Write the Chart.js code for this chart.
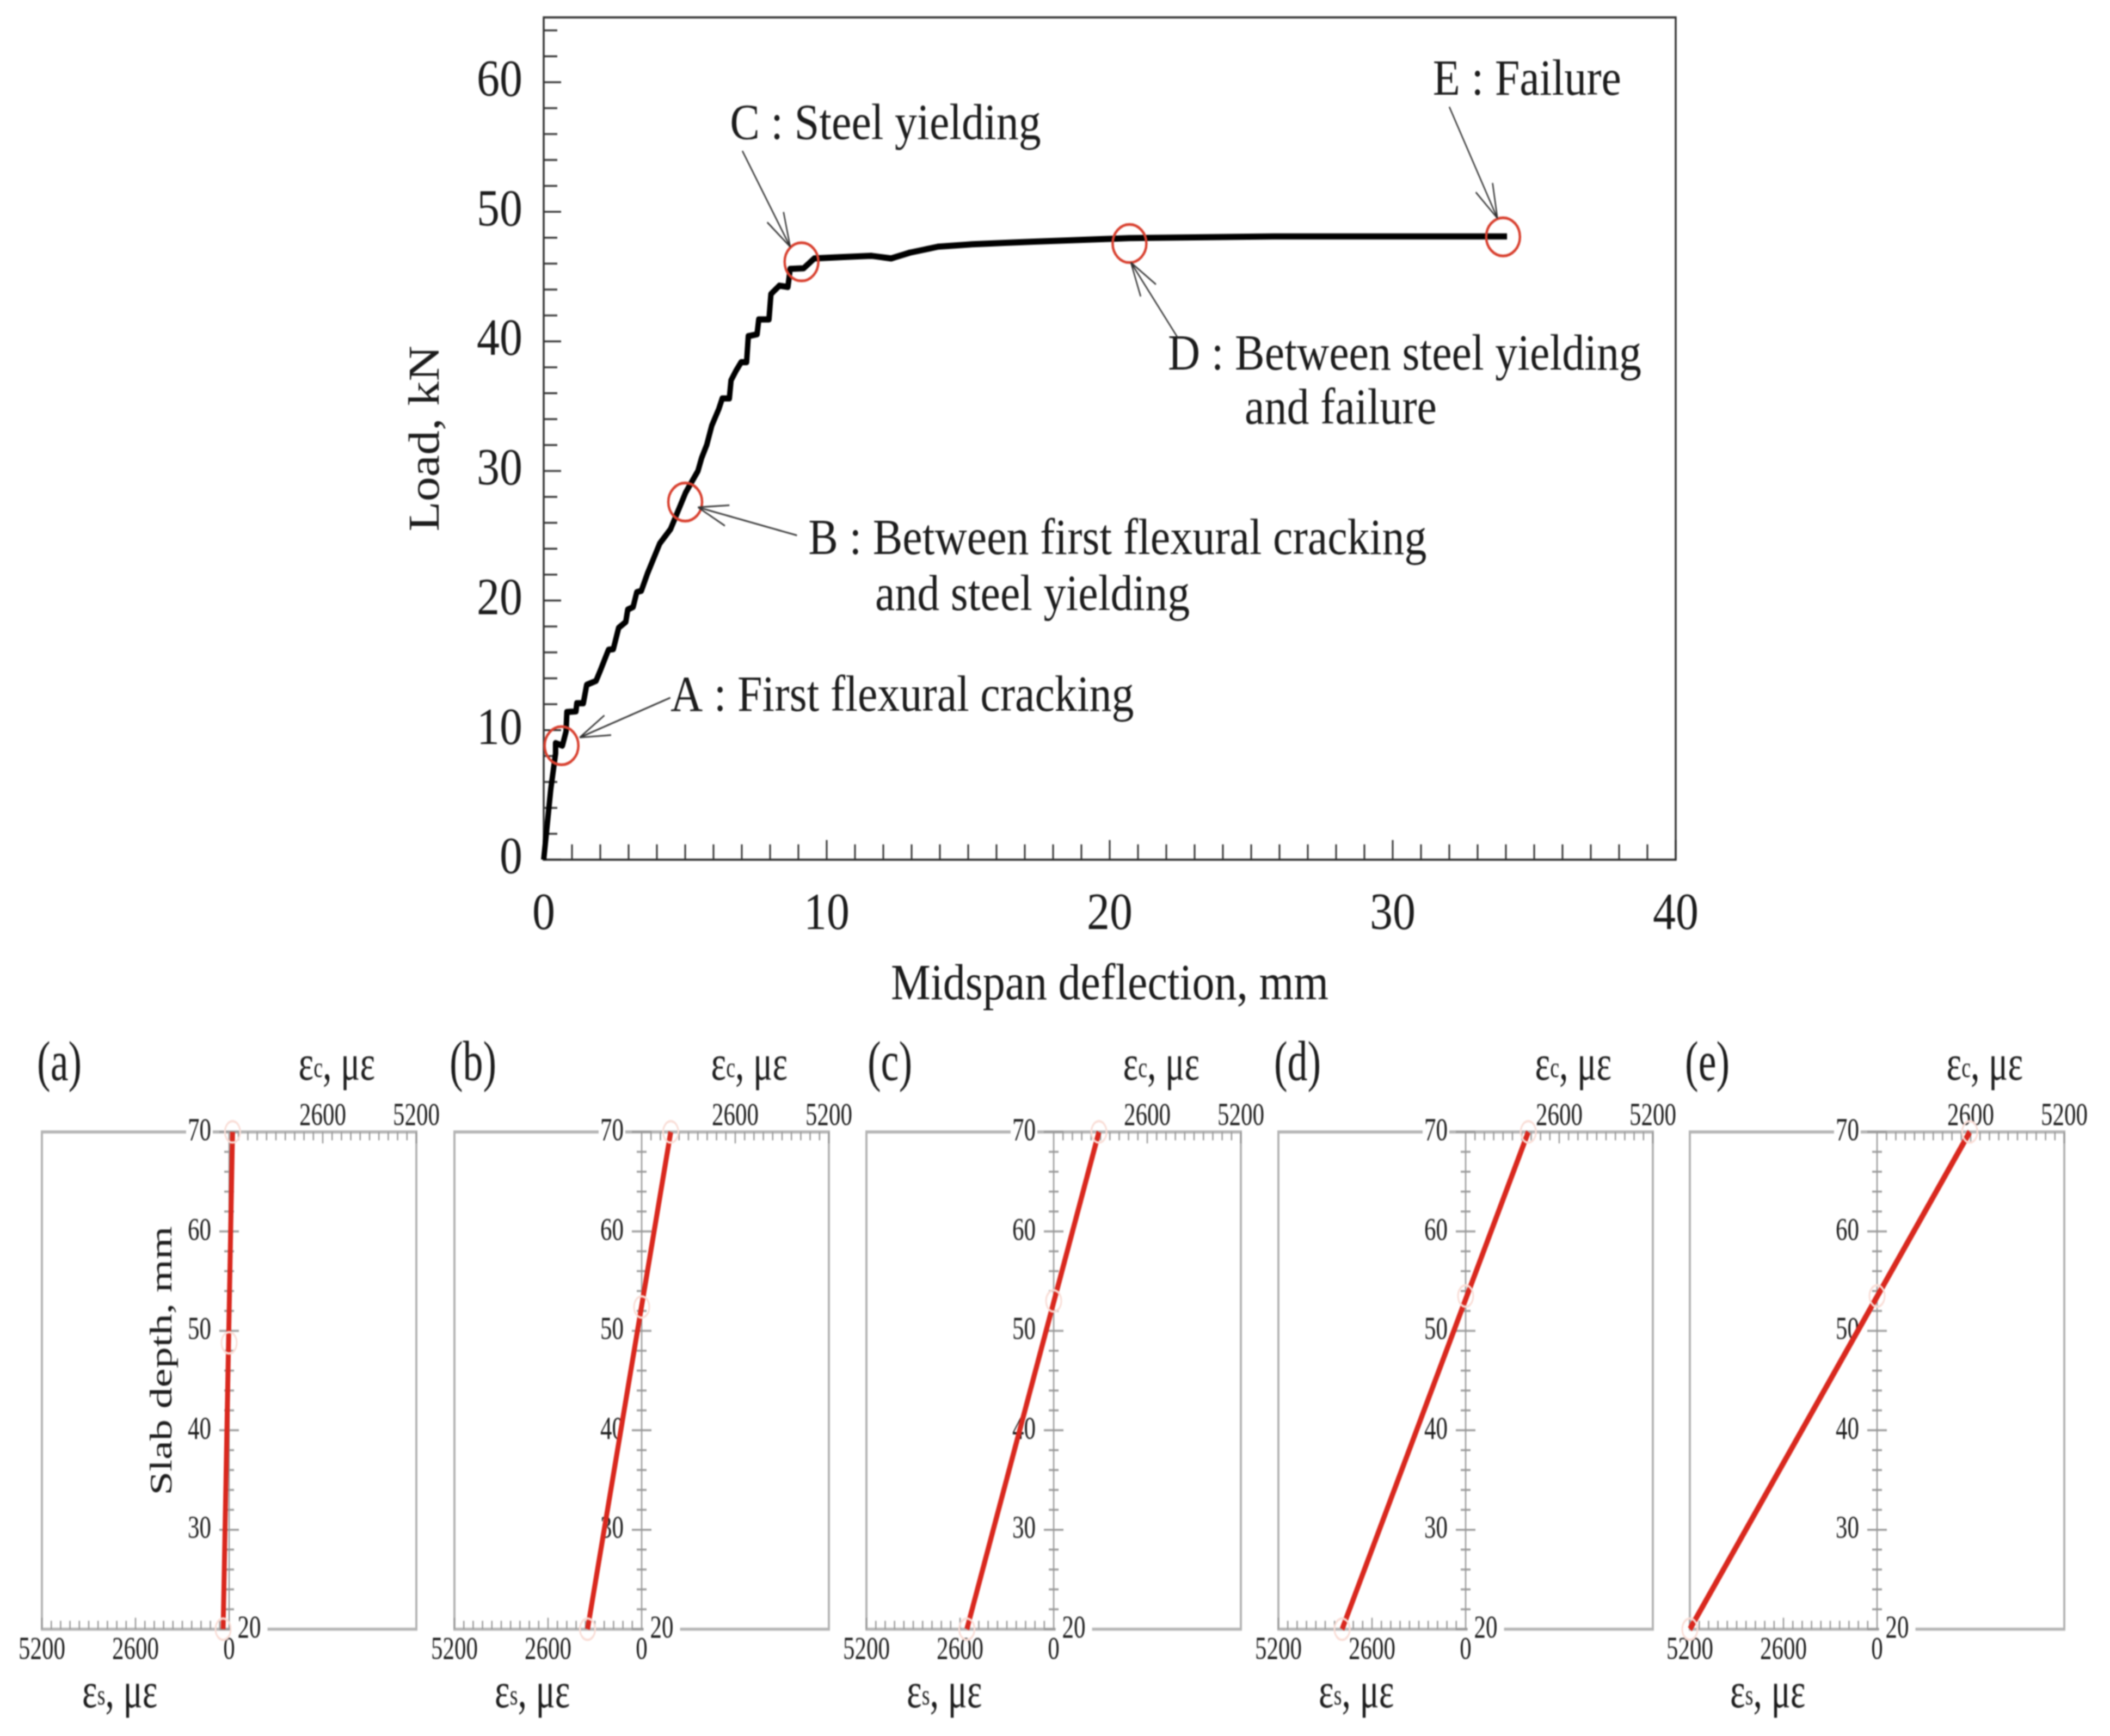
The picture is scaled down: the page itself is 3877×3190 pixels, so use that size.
<!DOCTYPE html>
<html>
<head>
<meta charset="utf-8">
<script src="https://cdn.jsdelivr.net/npm/chart.js@4"></script>
<style>
  html, body { margin: 0; background: #fff; }
  #page { position: relative; width: 3877px; height: 3190px; overflow: hidden; background: #fff; }
  canvas { position: absolute; filter: blur(1px); }
</style>
</head>
<body>
<div id="page"></div>
<script>
// Load vs midspan deflection
const deflection = [0, 0.25, 0.42, 0.42, 0.66, 0.79, 0.82, 1.14, 1.17, 1.40, 1.52, 1.85, 2.0, 2.29, 2.46, 2.65, 2.9, 2.97, 3.16, 3.29, 3.45, 3.67, 4.1, 4.48, 5.02, 5.45, 5.58, 5.76, 5.94, 6.19, 6.31, 6.56, 6.62, 6.8, 6.98, 7.17, 7.23, 7.54, 7.6, 7.96, 8.03, 8.33, 8.63, 8.71, 9.19, 9.56, 10.48, 11.59, 12.27, 12.94, 13.92, 15.14, 17.33, 20.68, 25.8, 34.04];
const load = [0, 5.45, 8.2, 9.0, 8.8, 9.9, 11.4, 11.45, 12.07, 12.07, 13.5, 13.8, 14.6, 16.2, 16.25, 17.9, 18.35, 19.3, 19.5, 20.65, 20.75, 22.1, 24.4, 25.5, 28.35, 30.0, 31.0, 32.0, 33.5, 34.8, 35.6, 35.6, 37.0, 37.75, 38.4, 38.4, 40.4, 40.55, 41.7, 41.7, 43.65, 44.3, 44.2, 45.6, 45.65, 46.4, 46.5, 46.6, 46.4, 46.85, 47.3, 47.5, 47.7, 47.97, 48.1, 48.1];

// Stage markers A-E
const stageX = [0.63, 5.0, 9.11, 20.7, 33.9];
const stageY = [8.8, 27.6, 46.14, 47.55, 48.07];

// Arrows from each caption to its marker
const arrowTailX = [4.475, 8.95, 7.02, 22.4, 32.0];
const arrowTailY = [12.5, 25.03, 54.7, 40.3, 58.1];
const arrowTipX = [1.27, 5.45, 8.71, 20.75, 33.7];
const arrowTipY = [9.43, 27.2, 47.3, 46.08, 49.5];

// Captions on the load curve
const captionText = ['A : First flexural cracking', 'B : Between first flexural cracking', 'and steel yielding', 'C : Steel yielding', 'D : Between steel yielding', 'and failure', 'E : Failure'];
const captionX = [4.48, 9.35, 11.71, 6.58, 22.06, 24.77, 31.42];
const captionY = [11.5, 23.6, 19.27, 55.6, 37.85, 33.65, 59.05];

// Strain profiles (a)-(e)
const panelLetters = ['(a)', '(b)', '(c)', '(d)', '(e)'];
const concreteStrain = [95, 808, 1257, 1741, 2575];
const steelStrain = [-166, -1503, -2412, -3431, -5200];
const neutralDepth = [48.8, 52.4, 53.0, 53.5, 53.5];
const topDepth = 70;
const bottomDepth = 20;
const letterX = [-4715, -4685, -4550, -4670, -4715];

// layout, page px
const SERIF = '"Liberation Serif", serif';
const MAIN_K = 1.13, PANEL_K = 1.4;   // the source picture is stretched vertically
const panelLeft = [77, 835, 1592, 2349, 3105];
const PANEL_W = 688, PANEL_SIDE = 60, PANEL_TOP = 2080, PANEL_BOTTOM = 2994, PANEL_PAGE_Y = 1880;

function addCanvas(left, top, w, h, cssH) {
    const el = document.createElement('canvas');
    el.width = w; el.height = h;
    el.style.left = left + 'px'; el.style.top = top + 'px';
    el.style.width = w + 'px'; el.style.height = cssH + 'px';
    document.getElementById('page').appendChild(el);
    return el;
}

const axisMarks = {
    id: 'axisMarks',
    beforeDraw(chart, args, o) {
        const a = chart.chartArea, c = chart.ctx;
        c.save();
        c.strokeStyle = o.frameColor; c.lineWidth = o.frameWidth;
        c.strokeRect(a.left, a.top, a.right - a.left, a.bottom - a.top);
        c.restore();
    },
    beforeDatasetsDraw(chart, args, o) {
        const c = chart.ctx;
        c.save();
        c.strokeStyle = o.tickColor; c.lineWidth = o.tickWidth;
        o.marks.forEach(m => {
            const s = chart.scales[m.id], edge = m.edge(chart);
            if (m.spine) {
                c.beginPath();
                c.moveTo(edge, chart.chartArea.top); c.lineTo(edge, chart.chartArea.bottom);
                c.stroke();
            }
            s.ticks.forEach(t => {
                if (m.keep && !m.keep(t.value)) return;
                const r = t.value % m.every === 0 ? m.major : m.minor, p = s.getPixelForValue(t.value);
                c.beginPath();
                if (s.isHorizontal()) { c.moveTo(p, edge + r[0]); c.lineTo(p, edge + r[1]); }
                else { c.moveTo(edge + r[0], p); c.lineTo(edge + r[1], p); }
                c.stroke();
            });
        });
        c.restore();
    }
};

// free text placed in data coordinates
const notes = {
    id: 'notes',
    beforeDatasetsDraw(chart, args, o) {
        const c = chart.ctx;
        o.items.forEach(n => {
            const x = chart.scales.x.getPixelForValue(n.x), y = chart.scales.y.getPixelForValue(n.y);
            c.save();
            c.translate(x, y);
            if (n.rotate) c.rotate(n.rotate);
            c.fillStyle = '#1c1c1c';
            c.textBaseline = n.baseline || 'alphabetic';
            const parts = n.parts || [[n.text, n.size, 0]];
            const sizes = parts.map(p => { c.font = p[1] + 'px ' + SERIF; return c.measureText(p[0]).width; });
            const total = sizes.reduce((a, b) => a + b, 0);
            let px = n.align === 'center' ? -total / 2 : 0;
            // white patch breaks the frame line behind the "20" label
            if (n.bg) { c.fillStyle = '#fff'; c.fillRect(px - 12, -n.size * 0.55, total + 24, n.size * 0.7); c.fillStyle = '#1c1c1c'; }
            parts.forEach((p, i) => {
                c.font = p[1] + 'px ' + SERIF;
                c.fillText(p[0], px, p[2]);
                px += sizes[i];
            });
            c.restore();
        });
    }
};

// caption arrows with open two-barb heads
const arrows = {
    id: 'arrows',
    afterDatasetsDraw(chart) {
        const c = chart.ctx, sx = chart.scales.x, sy = chart.scales.y;
        c.save();
        c.strokeStyle = '#333'; c.lineWidth = 2.5;
        arrowTipX.forEach((_, i) => {
            const x0 = sx.getPixelForValue(arrowTailX[i]), y0 = sy.getPixelForValue(arrowTailY[i]);
            const x1 = sx.getPixelForValue(arrowTipX[i]), y1 = sy.getPixelForValue(arrowTipY[i]);
            const ang = Math.atan2(y0 - y1, x0 - x1);
            c.beginPath();
            c.moveTo(x0, y0); c.lineTo(x1, y1);
            [-0.3, 0.3].forEach(d => {
                c.moveTo(x1, y1);
                c.lineTo(x1 + 58 * Math.cos(ang + d), y1 + 58 * Math.sin(ang + d));
            });
            c.stroke();
        });
        c.restore();
    }
};

// main load-deflection chart
const MAIN_PAGE_H = 1880, MAIN_H = Math.round(MAIN_PAGE_H / MAIN_K);
const mainFont = { family: SERIF, size: 84 };
new Chart(addCanvas(0, 0, 3877, MAIN_H, MAIN_PAGE_H), {
    type: 'scatter',
    data: {
        datasets: [
            {
                data: stageX.map((x, i) => ({ x, y: stageY[i] })),
                pointStyle: 'circle', pointRadius: 31, pointBorderWidth: 4.5,
                pointBorderColor: '#d8402f', pointBackgroundColor: 'transparent', clip: false
            },
            {
                data: deflection.map((x, i) => ({ x, y: load[i] })),
                showLine: true, borderColor: '#000', borderWidth: 10, pointRadius: 0,
                borderJoinStyle: 'round', tension: 0, clip: false
            }
        ]
    },
    options: {
        responsive: false, animation: false, devicePixelRatio: 1, events: [],
        layout: { autoPadding: false, padding: { left: 0, right: 3877 - 3079, top: 32 / MAIN_K, bottom: 0 } },
        plugins: {
            legend: { display: false }, tooltip: { enabled: false },
            axisMarks: {
                frameColor: '#333', frameWidth: 3.5, tickColor: '#333', tickWidth: 3,
                marks: [
                    { id: 'x', edge: c => c.chartArea.bottom, every: 10, major: [-32, 0], minor: [-25, 0] },
                    { id: 'y', edge: c => c.chartArea.left, every: 10, major: [0, 32], minor: [0, 25] }
                ]
            },
            notes: { items: captionText.map((text, i) => ({ text, x: captionX[i], y: captionY[i], size: 82 })) }
        },
        scales: {
            x: {
                type: 'linear', min: 0, max: 40,
                grid: { display: false }, border: { display: false },
                afterFit: s => { s.height = MAIN_H - 1580 / MAIN_K; s.paddingLeft = 0; s.paddingRight = 0; },
                ticks: {
                    stepSize: 1, autoSkip: false, maxRotation: 0, includeBounds: false,
                    font: mainFont, color: '#1c1c1c', padding: 32,
                    callback: v => v % 10 === 0 ? v : ''
                },
                title: { display: true, text: 'Midspan deflection, mm', font: { family: SERIF, size: 82, lineHeight: 1 }, color: '#1c1c1c', padding: { bottom: 20 } }
            },
            y: {
                type: 'linear', min: 0, max: 65,
                grid: { display: false }, border: { display: false },
                afterFit: s => { s.width = 999; s.paddingTop = 0; s.paddingBottom = 0; },
                ticks: {
                    stepSize: 2, autoSkip: false, includeBounds: false,
                    font: mainFont, color: '#1c1c1c', padding: 31,
                    callback: v => v % 10 === 0 ? v : ''
                },
                title: { display: true, text: 'Load, kN', font: { family: SERIF, size: 80, lineHeight: 1 }, color: '#1c1c1c', padding: { top: 745 } }
            }
        }
    },
    plugins: [axisMarks, notes, arrows]
});

// strain profile panels
const PANEL_CANVAS_H = Math.round((3190 - PANEL_PAGE_Y) / PANEL_K);
const panelTopRoom = (PANEL_TOP - PANEL_PAGE_Y) / PANEL_K;
const panelBottomRoom = PANEL_CANVAS_H - (PANEL_BOTTOM - PANEL_PAGE_Y) / PANEL_K;
panelLetters.forEach((letter, i) => {
    const items = [
        { text: letter, x: letterX[i], y: 76.7, size: 74, align: 'center', baseline: 'middle' },
        { parts: [['ε', 66, 0], ['c', 38, 4], [', με', 66, 0]], x: 2990, y: 76.6, align: 'center', baseline: 'middle' },
        { parts: [['ε', 66, 0], ['s', 38, 4], [', με', 66, 0]], x: -3035, y: 13.5, align: 'center', baseline: 'middle' },
        { text: String(bottomDepth), x: 560, y: bottomDepth, size: 43, align: 'center', baseline: 'middle', bg: true }
    ];
    if (i === 0) items.push({ text: 'Slab depth, mm', x: -1832, y: 47, size: 56, align: 'center', baseline: 'middle', rotate: -Math.PI / 2 });

    new Chart(addCanvas(panelLeft[i] - PANEL_SIDE, PANEL_PAGE_Y, PANEL_W + 2 * PANEL_SIDE, PANEL_CANVAS_H, 3190 - PANEL_PAGE_Y), {
        type: 'scatter',
        data: {
            datasets: [
                {
                    data: [
                        { x: concreteStrain[i], y: topDepth },
                        { x: 0, y: neutralDepth[i] },
                        { x: steelStrain[i], y: bottomDepth }
                    ],
                    pointStyle: 'circle', pointRadius: 14, pointBorderWidth: 3,
                    pointBorderColor: '#f9ddd6', pointBackgroundColor: 'transparent', clip: false
                },
                {
                    data: [{ x: steelStrain[i], y: bottomDepth }, { x: concreteStrain[i], y: topDepth }],
                    showLine: true, borderColor: '#d9281e', borderWidth: 9, pointRadius: 0, clip: false
                }
            ]
        },
        options: {
            responsive: false, animation: false, devicePixelRatio: 1, events: [],
            layout: { autoPadding: false, padding: { left: PANEL_SIDE, right: PANEL_SIDE, top: 0, bottom: 0 } },
            plugins: {
                legend: { display: false }, tooltip: { enabled: false },
                axisMarks: {
                    frameColor: '#b4b4b4', frameWidth: 4, tickColor: '#999', tickWidth: 2.5,
                    marks: [
                        { id: 'x', edge: c => c.chartArea.bottom, every: 2600, major: [-15, 0], minor: [-11, 0], keep: v => v < 0 },
                        { id: 'xTop', edge: c => c.chartArea.top, every: 2600, major: [0, 15], minor: [0, 11], keep: v => v > 0 },
                        { id: 'y', edge: c => c.scales.x.getPixelForValue(0), every: 10, major: [-18, 18], minor: [-9, 9], spine: true }
                    ]
                },
                notes: { items }
            },
            scales: {
                x: {
                    type: 'linear', position: 'bottom', min: -5200, max: 5200,
                    grid: { display: false }, border: { display: false },
                    afterFit: s => { s.height = panelBottomRoom; s.paddingLeft = 0; s.paddingRight = 0; },
                    ticks: {
                        stepSize: 260, autoSkip: false, maxRotation: 0,
                        font: { family: SERIF, size: 43 }, color: '#1c1c1c', padding: -6,
                        callback: v => (v <= 0 && v % 2600 === 0) ? Math.abs(v) : ''
                    }
                },
                xTop: {
                    type: 'linear', position: 'top', min: -5200, max: 5200,
                    grid: { display: false }, border: { display: false },
                    afterFit: s => { s.height = panelTopRoom; s.paddingLeft = 0; s.paddingRight = 0; },
                    ticks: {
                        stepSize: 260, autoSkip: false, maxRotation: 0,
                        font: { family: SERIF, size: 43 }, color: '#1c1c1c', padding: -14,
                        callback: v => (v > 0 && v % 2600 === 0) ? v : ''
                    }
                },
                // labels sit left of the spine, so the axis itself is set off from zero
                y: {
                    type: 'linear', position: { x: -500 }, min: bottomDepth, max: topDepth,
                    grid: { display: false }, border: { display: false },
                    afterFit: s => { s.paddingTop = 0; s.paddingBottom = 0; },
                    ticks: {
                        stepSize: 2, autoSkip: false, font: { family: SERIF, size: 43 }, color: '#1c1c1c', padding: 0,
                        showLabelBackdrop: c => c.tick.value === topDepth,
                        backdropColor: '#fff', backdropPadding: 3,
                        callback: v => (v % 10 === 0 && v !== bottomDepth) ? v : ''
                    }
                }
            }
        },
        plugins: [axisMarks, notes]
    });
});
</script>
</body>
</html>
